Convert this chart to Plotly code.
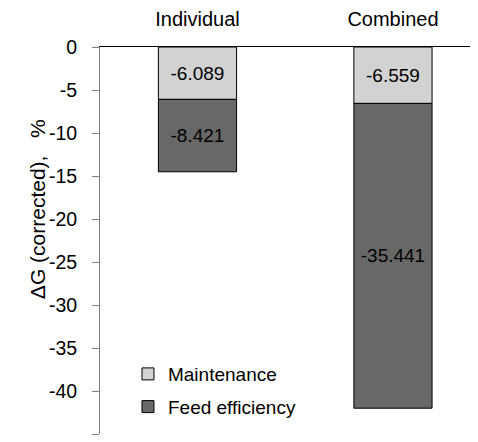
import plotly.graph_objects as go

categories = ["Individual", "Combined"]
maintenance = [-6.089, -6.559]
feed_efficiency = [-8.421, -35.441]
y_ticks = [0, -5, -10, -15, -20, -25, -30, -35, -40, -45]
y_ticktext = ["0", "-5", "-10", "-15", "-20", "-25", "-30", "-35", "-40", "-45"]
y_title = "ΔG (corrected),\u00a0\u00a0\u00a0%"

font_family = "Liberation Sans, Arial, sans-serif"

fig = go.Figure()
fig.add_trace(go.Bar(
    x=categories, y=maintenance, name="Maintenance",
    marker=dict(color="#d2d2d2", line=dict(color="#000000", width=1)),
    text=[f"{v:.3f}" for v in maintenance], textposition="inside",
    insidetextanchor="middle", textangle=0, constraintext="none",
    textfont=dict(color="black", size=19, family=font_family),
    width=0.40, legendgroup="a",
))
fig.add_trace(go.Bar(
    x=categories, y=feed_efficiency, name="Feed efficiency",
    marker=dict(color="#686868", line=dict(color="#000000", width=1)),
    text=[f"{v:.3f}" for v in feed_efficiency], textposition="inside",
    insidetextanchor="middle", textangle=0, constraintext="none",
    textfont=dict(color="black", size=19, family=font_family),
    width=0.40, legendgroup="b",
))

fig.add_annotation(
    text=y_title, xref="paper", yref="paper", x=-0.1667, y=0.581,
    xanchor="center", yanchor="middle", textangle=-90, showarrow=False,
    font=dict(size=21, family=font_family, color="black"),
)

fig.update_layout(
    barmode="relative",
    width=470, height=434,
    margin=dict(l=92, r=0, t=39, b=8),
    paper_bgcolor="white", plot_bgcolor="white",
    font=dict(family=font_family, size=19, color="black"),
    showlegend=True,
    legend=dict(x=0.074, y=0.204, xanchor="left", yanchor="top",
                bgcolor="rgba(0,0,0,0)", font=dict(size=19),
                tracegroupgap=5, traceorder="grouped"),
    xaxis=dict(side="top", range=[-0.4987, 1.435], showline=True,
               linecolor="black", linewidth=1, ticks="outside", ticklen=12,
               tickcolor="rgba(0,0,0,0)", showgrid=False, zeroline=False,
               tickfont=dict(size=20), automargin=False),
    yaxis=dict(range=[-45, 0], tickvals=y_ticks, ticktext=y_ticktext,
               showline=True, linecolor="#808080", linewidth=1,
               ticks="outside", ticklen=7, tickcolor="#808080",
               ticklabelstandoff=11,
               showgrid=False, zeroline=False, tickfont=dict(size=19.5),
               automargin=False),
)

fig.write_html("out.html")
